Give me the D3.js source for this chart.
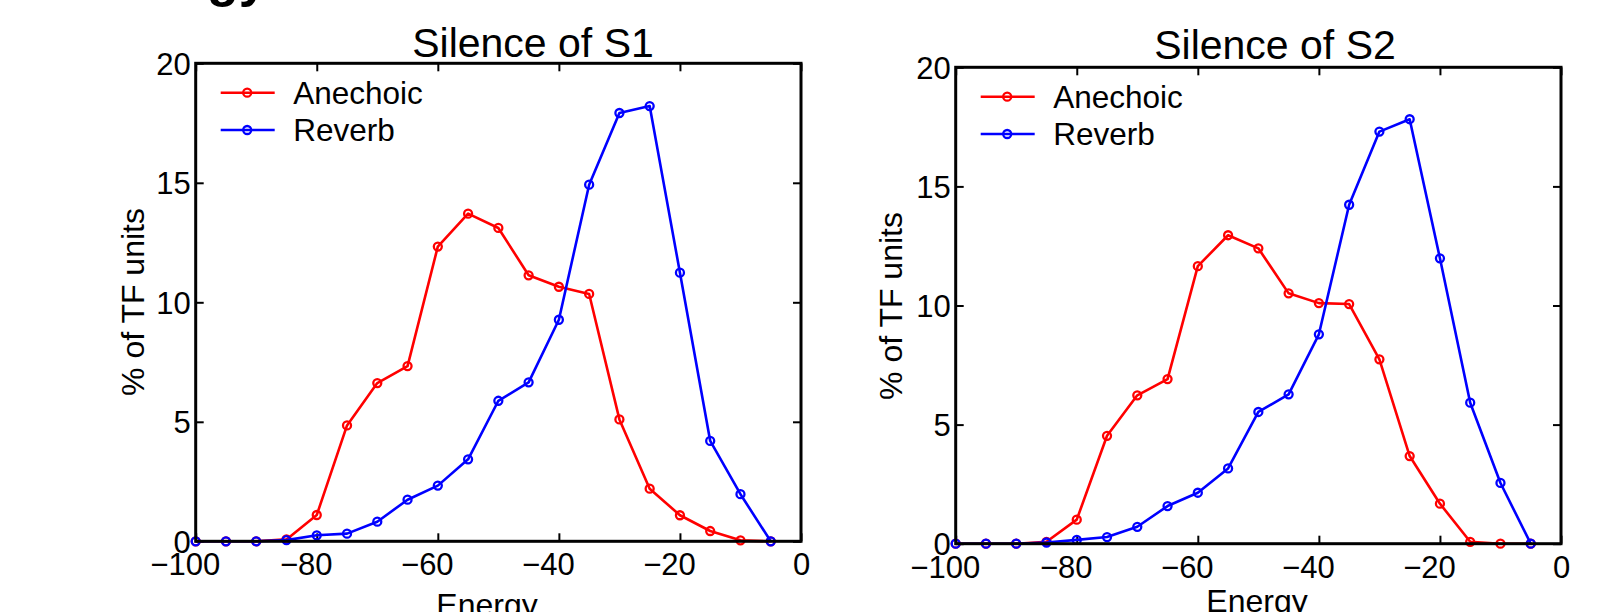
<!DOCTYPE html>
<html>
<head>
<meta charset="utf-8">
<script src="https://cdn.jsdelivr.net/npm/d3@7"></script>
<style>
  html, body { margin: 0; padding: 0; background: #fff; }
  svg { display: block; }
  text { font-family: "Liberation Sans", Arial, Helvetica, sans-serif; fill: #000; }
</style>
</head>
<body>
<svg id="chart" width="1620" height="612"></svg>
<script>
// ---- data ----
const energy = [-100, -95, -90, -85, -80, -75, -70, -65, -60, -55, -50, -45, -40, -35, -30, -25, -20, -15, -10, -5];
const s1Anechoic = [0, 0, 0, 0.08, 1.10, 4.85, 6.62, 7.33, 12.33, 13.71, 13.11, 11.13, 10.65, 10.35, 5.10, 2.20, 1.09, 0.43, 0.04, 0];
const s1Reverb   = [0, 0, 0, 0.05, 0.25, 0.32, 0.82, 1.74, 2.33, 3.43, 5.88, 6.65, 9.27, 14.92, 17.92, 18.21, 11.24, 4.20, 1.97, 0];
const s2Anechoic = [0, 0, 0, 0.08, 1.01, 4.53, 6.23, 6.91, 11.65, 12.95, 12.40, 10.51, 10.10, 10.06, 7.74, 3.68, 1.68, 0.08, 0, 0];
const s2Reverb   = [0, 0, 0, 0.05, 0.16, 0.28, 0.71, 1.58, 2.14, 3.16, 5.53, 6.27, 8.79, 14.23, 17.30, 17.82, 11.98, 5.92, 2.55, 0];
const xTicks = [-100, -80, -60, -40, -20, 0];
const yTicks = [0, 5, 10, 15, 20];
const seriesNames = ["Anechoic", "Reverb"];
const seriesColors = ["#ff0000", "#0000ff"];
const titles = ["Silence of S1", "Silence of S2"];
const xLabel = "Energy";
const yLabel = "% of TF units";

const svg = d3.select("#chart");

// cut-off heading remnant at top
svg.append("text").attr("x", 207).attr("y", -4)
  .style("font-size", "52px").style("font-weight", "bold").text("gy");

const panels = [
  { left: 195.7, right: 801, top: 63.3, bottom: 541.3, data: [s1Anechoic, s1Reverb], title: titles[0],
    titleX: 533, titleY: 57.3, yLabX: 144, yLabY: 302, xLabX: 487, xLabY: 616 },
  { left: 955.7, right: 1561, top: 67.3, bottom: 543.7, data: [s2Anechoic, s2Reverb], title: titles[1],
    titleX: 1275, titleY: 59.3, yLabX: 901.5, yLabY: 306, xLabX: 1257, xLabY: 612 }
];

panels.forEach(p => {
  const x = d3.scaleLinear().domain([-100, 0]).range([p.left, p.right]);
  const y = d3.scaleLinear().domain([0, 20]).range([p.bottom, p.top]);
  const g = svg.append("g");

  // axes with inward ticks
  const xAxis = g.append("g").attr("transform", `translate(0,${p.bottom})`)
    .call(d3.axisBottom(x).tickValues(xTicks).tickSizeInner(-8).tickSizeOuter(0).tickPadding(12)
      .tickFormat(d => d < 0 ? "\u2212" + Math.abs(d) : String(d)));
  xAxis.select(".domain").remove();
  xAxis.selectAll("line").attr("stroke", "#000").attr("stroke-width", 2);
  xAxis.selectAll("text").style("font-size", "31px").attr("dx", d => d < 0 ? -11 : 0);

  const xAxisTop = g.append("g").attr("transform", `translate(0,${p.top})`)
    .call(d3.axisTop(x).tickValues(xTicks).tickSizeInner(-8).tickSizeOuter(0).tickFormat(""));
  xAxisTop.select(".domain").remove();
  xAxisTop.selectAll("line").attr("stroke", "#000").attr("stroke-width", 2);

  const yAxis = g.append("g").attr("transform", `translate(${p.left},0)`)
    .call(d3.axisLeft(y).tickValues(yTicks).tickSizeInner(-8).tickSizeOuter(0).tickPadding(5));
  yAxis.select(".domain").remove();
  yAxis.selectAll("line").attr("stroke", "#000").attr("stroke-width", 2);
  yAxis.selectAll("text").style("font-size", "31px").attr("dy", "0.36em");

  const yAxisRight = g.append("g").attr("transform", `translate(${p.right},0)`)
    .call(d3.axisRight(y).tickValues(yTicks).tickSizeInner(-8).tickSizeOuter(0).tickFormat(""));
  yAxisRight.select(".domain").remove();
  yAxisRight.selectAll("line").attr("stroke", "#000").attr("stroke-width", 2);

  // series
  const line = d3.line().x((d, i) => x(energy[i])).y(d => y(d));
  p.data.forEach((vals, si) => {
    g.append("path").datum(vals).attr("d", line)
      .attr("fill", "none").attr("stroke", seriesColors[si]).attr("stroke-width", 2.6)
      .attr("stroke-linejoin", "round");
    g.selectAll(null).data(vals).enter().append("circle")
      .attr("cx", (d, i) => x(energy[i])).attr("cy", d => y(d)).attr("r", 4)
      .attr("fill", "none").attr("stroke", seriesColors[si]).attr("stroke-width", 2.3);
  });

  // box
  g.append("rect").attr("x", p.left).attr("y", p.top)
    .attr("width", p.right - p.left).attr("height", p.bottom - p.top)
    .attr("fill", "none").attr("stroke", "#000").attr("stroke-width", 3);

  // legend
  seriesNames.forEach((name, si) => {
    const ly = p.top + 29.4 + si * 37.3;
    g.append("line").attr("x1", p.left + 25).attr("x2", p.left + 79)
      .attr("y1", ly).attr("y2", ly).attr("stroke", seriesColors[si]).attr("stroke-width", 2.6);
    g.append("circle").attr("cx", p.left + 51.5).attr("cy", ly).attr("r", 4)
      .attr("fill", "none").attr("stroke", seriesColors[si]).attr("stroke-width", 2.3);
    g.append("text").attr("x", p.left + 97.5).attr("y", ly + 10.8)
      .style("font-size", "31.5px").text(name);
  });

  // title and labels
  g.append("text").attr("x", p.titleX).attr("y", p.titleY).attr("text-anchor", "middle")
    .style("font-size", "41px").text(p.title);
  g.append("text").attr("x", p.xLabX).attr("y", p.xLabY).attr("text-anchor", "middle")
    .style("font-size", "32px").text(xLabel);
  g.append("text").attr("transform", `translate(${p.yLabX},${p.yLabY}) rotate(-90)`)
    .attr("text-anchor", "middle").style("font-size", "32px").text(yLabel);
});
</script>
</body>
</html>
